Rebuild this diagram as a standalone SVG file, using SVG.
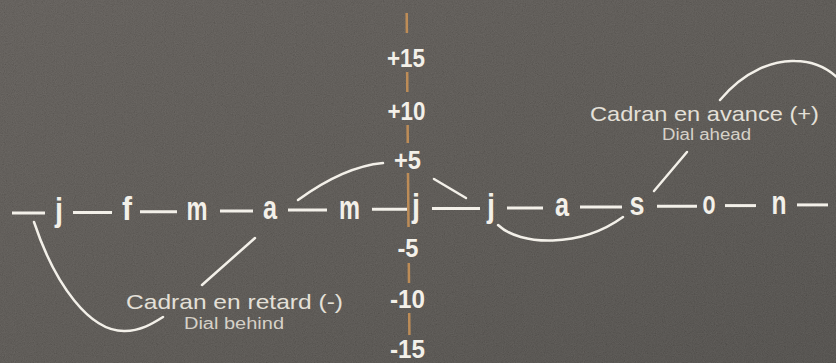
<svg xmlns="http://www.w3.org/2000/svg" width="836" height="363" viewBox="0 0 836 363">
  <defs>
    <linearGradient id="bg" x1="0" y1="0" x2="1" y2="1">
      <stop offset="0" stop-color="#4f4a45"/>
      <stop offset="0.6" stop-color="#45413c"/>
      <stop offset="1" stop-color="#3c3935"/>
    </linearGradient>
    <filter id="grain" x="0" y="0" width="100%" height="100%">
      <feTurbulence type="fractalNoise" baseFrequency="0.9" numOctaves="2" seed="7"/>
      <feColorMatrix type="matrix" values="0.33 0.33 0.33 0 0  0.33 0.33 0.33 0 0  0.33 0.33 0.33 0 0  0 0 0 0 0.22"/>
    </filter>
    <style>
      .month { font-family: "Liberation Sans", Arial, sans-serif; font-weight: bold; font-size: 33px; fill: #f3f0e9; text-anchor: middle; }
      .tick { font-family: "Liberation Sans", Arial, sans-serif; font-weight: bold; font-size: 26px; fill: #f3f0e9; text-anchor: middle; }
      .lbl { font-family: "Liberation Sans", Arial, sans-serif; font-size: 21px; fill: #e4e0d8; }
      .sub { font-family: "Liberation Sans", Arial, sans-serif; font-size: 16px; fill: #d6d1c8; }
      .dash { stroke: #f3f0e9; stroke-width: 3; fill: none; }
      .curve { stroke: #f3f0e9; stroke-width: 2.5; fill: none; stroke-linecap: round; }
      .axis { stroke: #c89257; stroke-width: 2.5; opacity: 0.9; }
    </style>
  </defs>

  <rect width="836" height="363" fill="url(#bg)"/>
  <rect width="836" height="363" filter="url(#grain)"/>

  <g id="axis">
    <line class="axis" x1="406.7" y1="13" x2="406.9" y2="33"/>
    <line class="axis" x1="407.2" y1="72" x2="407.3" y2="92"/>
    <line class="axis" x1="407.6" y1="125" x2="407.8" y2="143"/>
    <line class="axis" x1="408.0" y1="173" x2="408.5" y2="227"/>
    <line class="axis" x1="408.8" y1="263" x2="409.0" y2="283"/>
    <line class="axis" x1="409.2" y1="313" x2="409.4" y2="335"/>
  </g>

  <g id="axis-labels">
    <text class="tick" x="406" y="67" textLength="38" lengthAdjust="spacingAndGlyphs">+15</text>
    <text class="tick" x="406.5" y="120" textLength="38" lengthAdjust="spacingAndGlyphs">+10</text>
    <text class="tick" x="407.5" y="169" textLength="27" lengthAdjust="spacingAndGlyphs">+5</text>
    <text class="tick" x="408" y="257" textLength="21" lengthAdjust="spacingAndGlyphs">-5</text>
    <text class="tick" x="407.5" y="308" textLength="35" lengthAdjust="spacingAndGlyphs">-10</text>
    <text class="tick" x="407.5" y="358" textLength="35" lengthAdjust="spacingAndGlyphs">-15</text>
  </g>

  <g id="connectors">
    <line class="dash" x1="12" y1="213.1" x2="45" y2="213.1"/>
    <line class="dash" x1="73" y1="212.4" x2="112" y2="212.4"/>
    <line class="dash" x1="140" y1="211.7" x2="177" y2="211.7"/>
    <line class="dash" x1="220" y1="210.9" x2="253" y2="210.9"/>
    <line class="dash" x1="288" y1="210.1" x2="327" y2="210.1"/>
    <line class="dash" x1="372" y1="209.3" x2="407" y2="209.3"/>
    <line class="dash" x1="432" y1="208.6" x2="480" y2="208.6"/>
    <line class="dash" x1="507" y1="207.9" x2="543" y2="207.9"/>
    <line class="dash" x1="580" y1="207.1" x2="622" y2="207.1"/>
    <line class="dash" x1="657" y1="206.3" x2="697" y2="206.3"/>
    <line class="dash" x1="725" y1="205.6" x2="756" y2="205.6"/>
    <line class="dash" x1="797" y1="204.9" x2="828" y2="204.9"/>
  </g>

  <g id="months">
    <text class="month" x="59" y="221" textLength="8" lengthAdjust="spacingAndGlyphs">j</text>
    <text class="month" x="127" y="220.3" textLength="10" lengthAdjust="spacingAndGlyphs">f</text>
    <text class="month" x="197" y="219.6" textLength="21" lengthAdjust="spacingAndGlyphs">m</text>
    <text class="month" x="270" y="219" textLength="14" lengthAdjust="spacingAndGlyphs">a</text>
    <text class="month" x="349.5" y="218.5" textLength="21" lengthAdjust="spacingAndGlyphs">m</text>
    <text class="month" x="416" y="217.3" textLength="8" lengthAdjust="spacingAndGlyphs">j</text>
    <text class="month" x="491" y="216.5" textLength="8" lengthAdjust="spacingAndGlyphs">j</text>
    <text class="month" x="562" y="215.8" textLength="14" lengthAdjust="spacingAndGlyphs">a</text>
    <text class="month" x="637" y="215" textLength="15" lengthAdjust="spacingAndGlyphs">s</text>
    <text class="month" x="709" y="214.2" textLength="13" lengthAdjust="spacingAndGlyphs">o</text>
    <text class="month" x="779" y="213.5" textLength="15" lengthAdjust="spacingAndGlyphs">n</text>
  </g>

  <g id="curve">
    <path class="curve" d="M34,222 C55,285 90,332 125,331 C140,331 152,324 163,317"/>
    <path class="curve" d="M202,285 L255,238"/>
    <path class="curve" d="M298,200 C320,184 350,166 383,163"/>
    <path class="curve" d="M434,179 L466,198"/>
    <path class="curve" d="M498,225 C520,246 580,248 623,217"/>
    <path class="curve" d="M654,191 L687,152"/>
    <path class="curve" d="M720,100 C745,70 775,60 795,61 C812,61 828,68 840,80"/>
  </g>

  <g id="label-behind">
    <text class="lbl" x="126" y="309" textLength="217" lengthAdjust="spacingAndGlyphs">Cadran en retard (-)</text>
    <text class="sub" x="184" y="329" textLength="100" lengthAdjust="spacingAndGlyphs">Dial behind</text>
  </g>

  <g id="label-ahead">
    <text class="lbl" x="590" y="121" textLength="229" lengthAdjust="spacingAndGlyphs">Cadran en avance (+)</text>
    <text class="sub" x="662" y="140" textLength="89" lengthAdjust="spacingAndGlyphs">Dial ahead</text>
  </g>
</svg>
